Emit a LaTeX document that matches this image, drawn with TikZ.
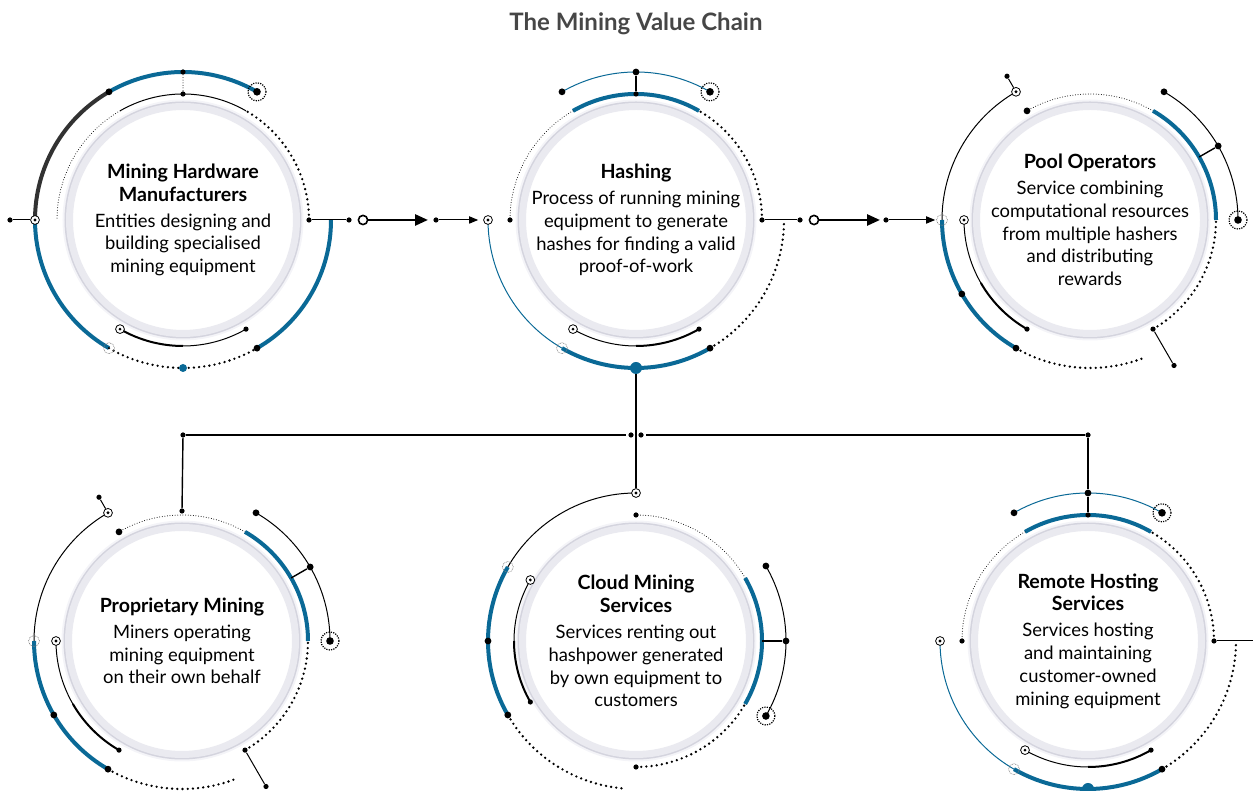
\documentclass[tikz,border=0pt]{standalone}
\usepackage{fontspec}
\setmainfont{Lato}
\usetikzlibrary{arrows.meta}
\definecolor{ChainClr}{RGB}{10,105,150}
\definecolor{DarkClr}{RGB}{50,50,50}
\definecolor{RimClr}{RGB}{234,234,240}
\definecolor{RimDark}{RGB}{212,212,222}
\definecolor{TitleClr}{RGB}{70,70,70}
\newcommand{\RingArc}[5][]{\draw[#1] ([shift={(#4:#3)}]#2) arc[start angle=#4,end angle=#5,radius=#3];}
\newcommand{\Hd}[1]{{\fontsize{9.8}{11.4}\selectfont\bfseries #1}}
\newcommand{\RingA}[1]{%
 \RingArc[thinblue]{#1}{148}{60}{120}
 \RingArc[bluearc]{#1}{126}{60}{120}
 \RingArc[finedots]{#1}{126}{120}{180}
 \RingArc[dotarc]{#1}{126}{0}{60}
 \RingArc[dotarc]{#1}{148}{300}{360}
 \RingArc[bluearc]{#1}{148}{240}{300}
 \RingArc[thinblue]{#1}{148}{180}{240}
 \RingArc[thinarc]{#1}{126}{240}{270}
 \RingArc[medarc]{#1}{126}{270}{300}
 \node[bdot] (#1-top) at ([shift={(90:148)}]#1) {};
 \node[sdot] (#1-topin) at ([shift={(90:126)}]#1) {};
 \draw[link,line width=0.8pt] (#1-top) -- (#1-topin);
 \node[bdot] at ([shift={(120:148)}]#1) {};
 \node[targetmk] at ([shift={(60:148)}]#1) {};
 \node[sdot] at ([shift={(180:126)}]#1) {};
 \node[sdot] (#1-right) at ([shift={(0:126)}]#1) {};
 \node[ringmk] (#1-left) at ([shift={(180:148)}]#1) {};
 \node[ghostmk] at ([shift={(240:148)}]#1) {};
 \node[bdot] at ([shift={(300:148)}]#1) {};
 \node[bigbluedot] (#1-bot) at ([shift={(270:148)}]#1) {};
 \node[ringmk] at ([shift={(240:126)}]#1) {};
 \node[sdot] at ([shift={(300:126)}]#1) {};
}
\newcommand{\RingB}[1]{%
 \RingArc[thinarc]{#1}{148}{120}{180}
 \RingArc[bluearc]{#1}{148}{180}{240}
 \RingArc[dotarc]{#1}{148}{240}{292}
 \RingArc[finedots]{#1}{126}{60}{120}
 \RingArc[bluearc]{#1}{126}{0}{60}
 \RingArc[dotarc]{#1}{126}{-60}{0}
 \RingArc[thinarc]{#1}{148}{0}{60}
 \RingArc[thinarc]{#1}{126}{180}{210}
 \RingArc[medarc]{#1}{126}{210}{240}
 \node[ringmk] (#1-tl) at ([shift={(120:148)}]#1) {};
 \node[sdot] (#1-tick) at ([shift={(120:166)}]#1) {};
 \draw[link] (#1-tl) -- (#1-tick);
 \node[ghostmk] (#1-left) at ([shift={(180:148)}]#1) {};
 \node[bdot] at ([shift={(210:148)}]#1) {};
 \node[bdot] at ([shift={(240:148)}]#1) {};
 \node[bdot] at ([shift={(120:126)}]#1) {};
 \node[sdot] (#1-br) at ([shift={(-60:126)}]#1) {};
 \node[sdot] (#1-brout) at ([shift={(-60:168)}]#1) {};
 \draw[link] (#1-br) -- (#1-brout);
 \node[bdot] at ([shift={(60:148)}]#1) {};
 \node[bdot] (#1-mid) at ([shift={(30:148)}]#1) {};
 \coordinate (#1-midin) at ([shift={(30:126)}]#1);
 \draw[link,line width=0.7pt] (#1-mid) -- (#1-midin);
 \node[targetmk] at ([shift={(0:148)}]#1) {};
 \node[ringmk] at ([shift={(180:126)}]#1) {};
 \node[sdot] at ([shift={(240:126)}]#1) {};
}

\begin{document}
\begin{tikzpicture}[x=0.5pt,y=0.5pt,
 bluearc/.style={ChainClr,line width=2pt},
 darkarc/.style={DarkClr,line width=2pt},
 thinarc/.style={black,line width=0.5pt},
 thinblue/.style={ChainClr,line width=0.5pt},
 medarc/.style={black,line width=1pt},
 dotarc/.style={black,line width=1.3pt,line cap=round,dash pattern=on 0pt off 2.6pt},
 finedots/.style={black,line width=0.5pt,line cap=round,dash pattern=on 0pt off 1.3pt},
 sdot/.style={circle,fill=black,inner sep=0pt,minimum size=2.6pt},
 bdot/.style={circle,fill=black,inner sep=0pt,minimum size=3.4pt},
 bluedot/.style={circle,fill=ChainClr,inner sep=0pt,minimum size=4pt},
 bigbluedot/.style={circle,fill=ChainClr,inner sep=0pt,minimum size=6pt},
 ringmk/.style={circle,draw,fill=white,line width=0.4pt,inner sep=0pt,minimum size=4.4pt,
   path picture={\fill[black] (path picture bounding box.center) circle (0.8pt);}},
 targetmk/.style={circle,draw,line width=0.6pt,dash pattern=on 0.6pt off 0.6pt,inner sep=0pt,minimum size=9pt,
   path picture={\fill[black] (path picture bounding box.center) circle (1.9pt);}},
 ghostmk/.style={circle,draw=gray,line width=0.3pt,dash pattern=on 0.4pt off 0.4pt,inner sep=0pt,minimum size=5.5pt},
 opencirc/.style={circle,draw,line width=0.8pt,fill=white,inner sep=0pt,minimum size=4.6pt},
 disk/.style={circle,fill=white,draw=RimClr,line width=3.5pt,minimum size=113.5pt,
   preaction={draw=RimClr!50,line width=7pt},preaction={draw=RimDark,line width=5pt}},
 blurb/.style={align=center,font=\fontsize{9.2}{11.4}\selectfont},
 link/.style={black,line width=0.5pt},
 bigarrow/.style={line width=1.3pt,-{Triangle[length=6.5pt,width=5.5pt]}},
 smallarrow/.style={line width=0.5pt,-{Triangle[length=4.5pt,width=3.6pt]}}]
\useasboundingbox (0,0) rectangle (1253,791);

\node[font=\fontsize{12}{14}\selectfont\bfseries,text=TitleClr] (title) at (636,767) {The Mining Value Chain};

\coordinate (hw) at (183,571);
\coordinate (hs) at (636,571);
\coordinate (po) at (1090,571);
\coordinate (pm) at (182,150);
\coordinate (cm) at (636,150);
\coordinate (rh) at (1088,150);

\foreach \c in {hw,hs,po,pm,cm,rh}
  \node[disk] (\c disk) at (\c) {};

\RingArc[bluearc]{hw}{148}{60}{120}
\RingArc[darkarc]{hw}{148}{120}{180}
\RingArc[bluearc]{hw}{148}{180}{240}
\RingArc[dotarc]{hw}{148}{240}{300}
\RingArc[bluearc]{hw}{148}{300}{360}
\RingArc[thinarc]{hw}{126}{60}{120}
\RingArc[finedots]{hw}{126}{120}{180}
\RingArc[dotarc]{hw}{126}{0}{60}
\RingArc[medarc]{hw}{126}{240}{270}
\RingArc[thinarc]{hw}{126}{270}{300}
\node[sdot] (hw-top) at ([shift={(90:148)}]hw) {};
\node[sdot] (hw-topin) at ([shift={(90:126)}]hw) {};
\draw[finedots] (hw-top) -- (hw-topin);
\node[bdot] at ([shift={(120:148)}]hw) {};
\node[targetmk] at ([shift={(60:148)}]hw) {};
\node[ringmk] (hw-left) at ([shift={(180:148)}]hw) {};
\node[sdot] (hw-end) at (10,571) {};
\draw[link] (hw-end) -- (hw-left);
\node[ghostmk] at ([shift={(240:148)}]hw) {};
\node[bdot] at ([shift={(300:148)}]hw) {};
\node[bluedot] at ([shift={(270:148)}]hw) {};
\node[ringmk] at ([shift={(240:126)}]hw) {};
\node[sdot] at ([shift={(300:126)}]hw) {};
\node[sdot] (hw-right) at ([shift={(0:126)}]hw) {};
\node[sdot] (hw-out) at (349,571) {};
\draw[link] (hw-right) -- (hw-out);

\RingA{hs}
\node[sdot] (hs-out) at (800,571) {};
\draw[link] (hs-right) -- (hs-out);

\RingB{po}

\RingB{pm}
\node[sdot] (pm-top) at ([shift={(90:130)}]pm) {};

\RingArc[thinarc]{cm}{148}{90}{150}
\RingArc[bluearc]{cm}{148}{150}{210}
\RingArc[dotarc]{cm}{148}{210}{265}
\RingArc[finedots]{cm}{126}{30}{90}
\RingArc[bluearc]{cm}{126}{-30}{30}
\RingArc[dotarc]{cm}{126}{-90}{-30}
\RingArc[thinarc]{cm}{150}{-30}{30}
\RingArc[thinarc]{cm}{122}{150}{180}
\RingArc[medarc]{cm}{122}{180}{210}
\node[ringmk] (cm-top) at ([shift={(90:148)}]cm) {};
\node[ghostmk] at ([shift={(150:148)}]cm) {};
\node[bdot] at ([shift={(180:148)}]cm) {};
\node[bdot] at ([shift={(210:148)}]cm) {};
\node[sdot] at ([shift={(90:126)}]cm) {};
\node[sdot] at ([shift={(-90:126)}]cm) {};
\node[bdot] at ([shift={(30:150)}]cm) {};
\node[bdot] (cm-r) at ([shift={(0:150)}]cm) {};
\coordinate (cm-rin) at ([shift={(0:126)}]cm);
\draw[link,line width=0.7pt] (cm-r) -- (cm-rin);
\node[targetmk] at ([shift={(-30:150)}]cm) {};
\node[ringmk] at ([shift={(150:122)}]cm) {};
\node[sdot] at ([shift={(210:122)}]cm) {};

\RingA{rh}
\coordinate (rh-out) at (1253,150);
\draw[link] (rh-right) -- (rh-out);

\node[opencirc] (a1s) at (363,571) {};
\coordinate (a1e) at (428,571);
\draw[bigarrow] (a1s) -- (a1e);
\node[sdot] (a1d) at (436,571) {};
\draw[smallarrow,shorten >=2.5pt] (a1d) -- (hs-left);

\node[opencirc] (a2s) at (814,571) {};
\coordinate (a2e) at (880,571);
\draw[bigarrow] (a2s) -- (a2e);
\node[sdot] (a2d) at (886,571) {};
\draw[smallarrow,shorten >=0.5pt] (a2d) -- (po-left);

\node[sdot] (jl) at (183,356) {};
\node[sdot] (jm1) at (631,356) {};
\node[sdot] (jm2) at (641,356) {};
\node[sdot] (jr) at (1088,356) {};
\draw[link,line width=0.7pt,shorten >=1pt] (jl) -- (jm1);
\draw[link,line width=0.7pt,shorten <=1pt] (jm2) -- (jr);
\draw[link,line width=0.7pt] (jl) -- (pm-top);
\draw[link,line width=0.7pt] (jr) -- (rh-top);
\draw[line width=1pt] (hs-bot) -- (cm-top);

\node[blurb] (hwtext) at (hw) {\Hd{Mining Hardware}\\\Hd{Manufacturers}\\[1.6pt]Entities designing and\\building specialised\\mining equipment};
\node[blurb] (hstext) at (hs) {\Hd{Hashing}\\[1.6pt]Process of running mining\\equipment to generate\\hashes for finding a valid\\proof-of-work};
\node[blurb] (potext) at (po) {\Hd{Pool Operators}\\[1.6pt]Service combining\\computational resources\\from multiple hashers\\and distributing\\rewards};
\node[blurb] (pmtext) at (pm) {\Hd{Proprietary Mining}\\[1.6pt]Miners operating\\mining equipment\\on their own behalf};
\node[blurb] (cmtext) at (cm) {\Hd{Cloud Mining}\\\Hd{Services}\\[1.6pt]Services renting out\\hashpower generated\\by own equipment to\\customers};
\node[blurb] (rhtext) at (rh) {\Hd{Remote Hosting}\\\Hd{Services}\\[1.6pt]Services hosting\\and maintaining\\customer-owned\\mining equipment};
\end{tikzpicture}
\end{document}
